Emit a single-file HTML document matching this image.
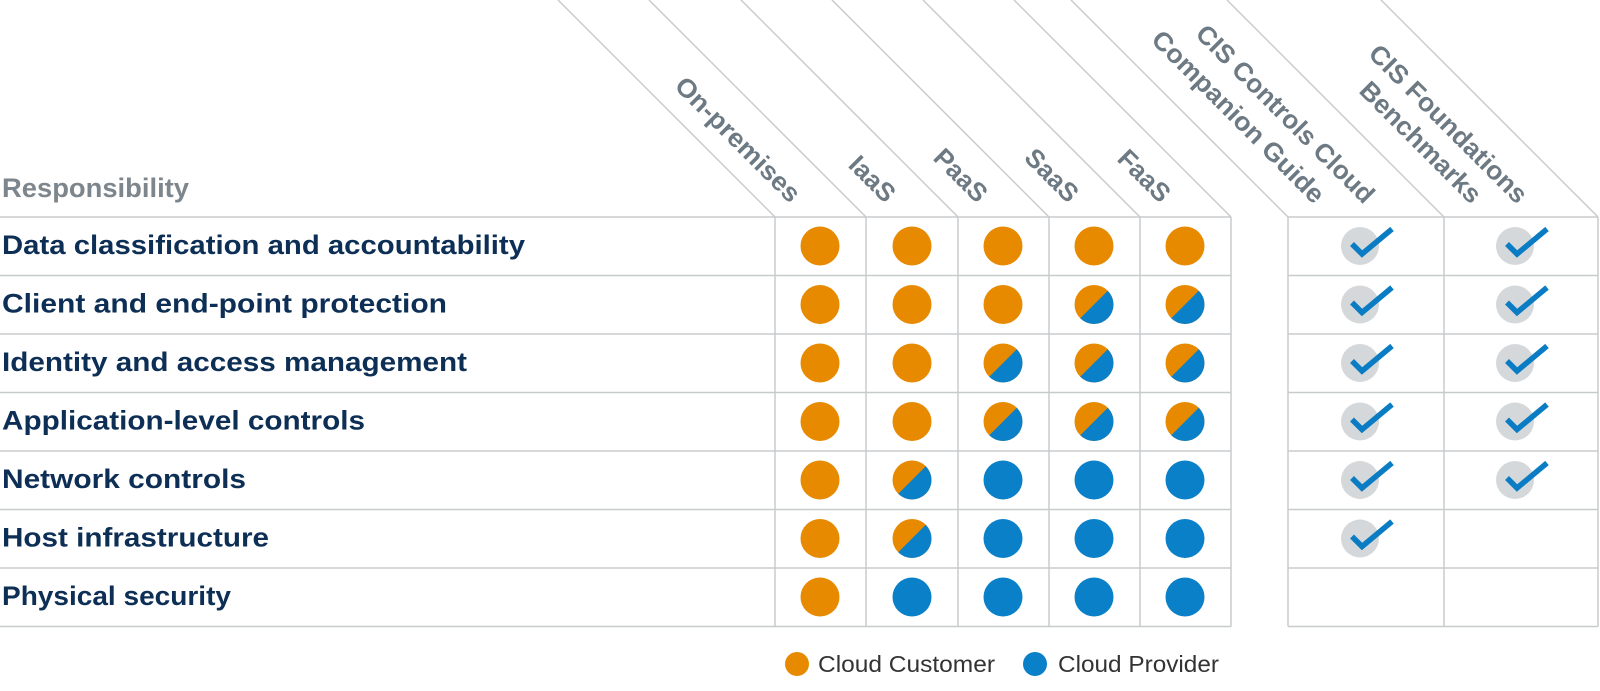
<!DOCTYPE html>
<html><head><meta charset="utf-8"><style>html,body{margin:0;padding:0;background:#fff}svg{display:block}</style></head>
<body>
<svg width="1600" height="691" viewBox="0 0 1600 691" xmlns="http://www.w3.org/2000/svg">
<defs>
<clipPath id="c"><circle r="19.5"/></clipPath>
<g id="O"><circle r="19.5" fill="#e88a00"/></g>
<g id="B"><circle r="19.5" fill="#0a80c8"/></g>
<g id="S"><g clip-path="url(#c)"><rect x="-20" y="-20" width="40" height="40" fill="#e88a00"/><polygon points="-24,24 24,-24 24,24" fill="#0a80c8"/></g></g>
<g id="K"><circle r="19" fill="#d5d8da"/><polyline points="-8,-2 2,8 32,-17" fill="none" stroke="#0a7cc4" stroke-width="5.5"/></g>
</defs>
<g stroke="#c8cbcd" stroke-width="1.5" fill="none">
<line x1="0" y1="217" x2="1231" y2="217"/><line x1="1288" y1="217" x2="1598" y2="217"/>
<line x1="0" y1="275.5" x2="1231" y2="275.5"/><line x1="1288" y1="275.5" x2="1598" y2="275.5"/>
<line x1="0" y1="334" x2="1231" y2="334"/><line x1="1288" y1="334" x2="1598" y2="334"/>
<line x1="0" y1="392.5" x2="1231" y2="392.5"/><line x1="1288" y1="392.5" x2="1598" y2="392.5"/>
<line x1="0" y1="451" x2="1231" y2="451"/><line x1="1288" y1="451" x2="1598" y2="451"/>
<line x1="0" y1="509.5" x2="1231" y2="509.5"/><line x1="1288" y1="509.5" x2="1598" y2="509.5"/>
<line x1="0" y1="568" x2="1231" y2="568"/><line x1="1288" y1="568" x2="1598" y2="568"/>
<line x1="0" y1="626.5" x2="1231" y2="626.5"/><line x1="1288" y1="626.5" x2="1598" y2="626.5"/>
<line x1="775" y1="217" x2="775" y2="626.5"/><line x1="866" y1="217" x2="866" y2="626.5"/><line x1="958" y1="217" x2="958" y2="626.5"/><line x1="1049" y1="217" x2="1049" y2="626.5"/><line x1="1140" y1="217" x2="1140" y2="626.5"/><line x1="1231" y1="217" x2="1231" y2="626.5"/>
<line x1="1288" y1="217" x2="1288" y2="626.5"/><line x1="1444" y1="217" x2="1444" y2="626.5"/><line x1="1598" y1="217" x2="1598" y2="626.5"/>
<line x1="775" y1="217" x2="558" y2="0"/><line x1="866" y1="217" x2="649" y2="0"/><line x1="958" y1="217" x2="741" y2="0"/><line x1="1049" y1="217" x2="832" y2="0"/><line x1="1140" y1="217" x2="923" y2="0"/><line x1="1231" y1="217" x2="1014" y2="0"/>
<line x1="1288" y1="217" x2="1071" y2="0"/><line x1="1444" y1="217" x2="1227" y2="0"/><line x1="1598" y1="217" x2="1381" y2="0"/>
</g>
<g font-family="Liberation Sans, sans-serif" font-weight="bold" font-size="26" fill="#6d7a83" text-anchor="end">
<text transform="translate(790,204) rotate(45)" textLength="165" lengthAdjust="spacingAndGlyphs">On-premises</text>
<text transform="translate(885,204) rotate(45)">IaaS</text>
<text transform="translate(977,204) rotate(45)">PaaS</text>
<text transform="translate(1068,204) rotate(45)">SaaS</text>
<text transform="translate(1160,204) rotate(45)">FaaS</text>
<text transform="translate(1364,205) rotate(45)" textLength="240" lengthAdjust="spacingAndGlyphs">CIS Controls Cloud</text>
<text transform="translate(1314,205) rotate(45)" textLength="232" lengthAdjust="spacingAndGlyphs">Companion Guide</text>
<text transform="translate(1517,205) rotate(45)" textLength="212" lengthAdjust="spacingAndGlyphs">CIS Foundations</text>
<text transform="translate(1471,205) rotate(45)" textLength="160" lengthAdjust="spacingAndGlyphs">Benchmarks</text>
</g>
<g font-family="Liberation Sans, sans-serif" font-weight="bold" font-size="27">
<text x="2" y="197" fill="#7d868c" textLength="187" lengthAdjust="spacingAndGlyphs">Responsibility</text>
<g fill="#0d2f55">
<text x="2" y="254" textLength="523" lengthAdjust="spacingAndGlyphs">Data classification and accountability</text>
<text x="2" y="312.5" textLength="445" lengthAdjust="spacingAndGlyphs">Client and end-point protection</text>
<text x="2" y="371" textLength="465" lengthAdjust="spacingAndGlyphs">Identity and access management</text>
<text x="2" y="429.5" textLength="363" lengthAdjust="spacingAndGlyphs">Application-level controls</text>
<text x="2" y="488" textLength="244" lengthAdjust="spacingAndGlyphs">Network controls</text>
<text x="2" y="546.5" textLength="267" lengthAdjust="spacingAndGlyphs">Host infrastructure</text>
<text x="2" y="605" textLength="229" lengthAdjust="spacingAndGlyphs">Physical security</text>
</g></g>
<use href="#O" x="820" y="246"/><use href="#O" x="912" y="246"/><use href="#O" x="1003" y="246"/><use href="#O" x="1094" y="246"/><use href="#O" x="1185" y="246"/>
<use href="#K" x="1360" y="246"/><use href="#K" x="1515" y="246"/>
<use href="#O" x="820" y="304.5"/><use href="#O" x="912" y="304.5"/><use href="#O" x="1003" y="304.5"/><use href="#S" x="1094" y="304.5"/><use href="#S" x="1185" y="304.5"/>
<use href="#K" x="1360" y="304.5"/><use href="#K" x="1515" y="304.5"/>
<use href="#O" x="820" y="363"/><use href="#O" x="912" y="363"/><use href="#S" x="1003" y="363"/><use href="#S" x="1094" y="363"/><use href="#S" x="1185" y="363"/>
<use href="#K" x="1360" y="363"/><use href="#K" x="1515" y="363"/>
<use href="#O" x="820" y="421.5"/><use href="#O" x="912" y="421.5"/><use href="#S" x="1003" y="421.5"/><use href="#S" x="1094" y="421.5"/><use href="#S" x="1185" y="421.5"/>
<use href="#K" x="1360" y="421.5"/><use href="#K" x="1515" y="421.5"/>
<use href="#O" x="820" y="480"/><use href="#S" x="912" y="480"/><use href="#B" x="1003" y="480"/><use href="#B" x="1094" y="480"/><use href="#B" x="1185" y="480"/>
<use href="#K" x="1360" y="480"/><use href="#K" x="1515" y="480"/>
<use href="#O" x="820" y="538.5"/><use href="#S" x="912" y="538.5"/><use href="#B" x="1003" y="538.5"/><use href="#B" x="1094" y="538.5"/><use href="#B" x="1185" y="538.5"/>
<use href="#K" x="1360" y="538.5"/>
<use href="#O" x="820" y="597"/><use href="#B" x="912" y="597"/><use href="#B" x="1003" y="597"/><use href="#B" x="1094" y="597"/><use href="#B" x="1185" y="597"/>
<circle cx="797" cy="664" r="12" fill="#e88a00"/>
<circle cx="1035" cy="664" r="12" fill="#0a80c8"/>
<g font-family="Liberation Sans, sans-serif" font-size="23" fill="#333">
<text x="818" y="672" textLength="177" lengthAdjust="spacingAndGlyphs">Cloud Customer</text>
<text x="1058" y="672" textLength="161" lengthAdjust="spacingAndGlyphs">Cloud Provider</text>
</g>
</svg>
</body></html>
